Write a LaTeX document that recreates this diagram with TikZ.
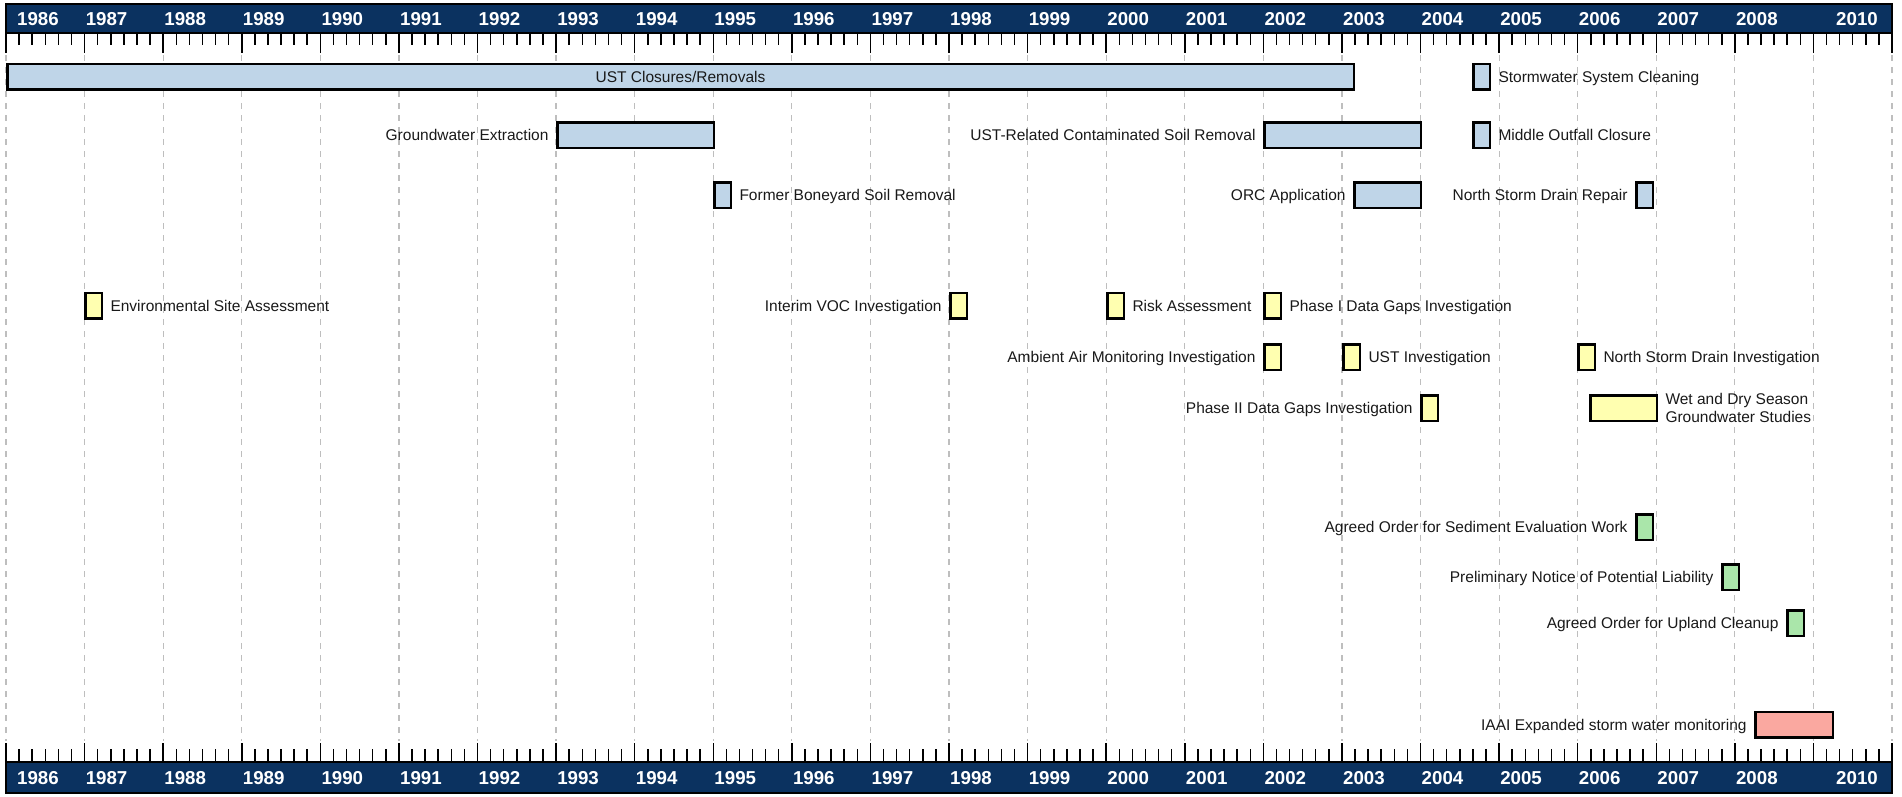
\documentclass[tikz,border=0pt]{standalone}
\usepackage{fontspec}
\setmainfont{Liberation Sans}
\usetikzlibrary{positioning}
\definecolor{navy}{RGB}{11,50,96}
\definecolor{barblue}{RGB}{191,213,232}
\definecolor{baryel}{RGB}{255,255,176}
\definecolor{bargreen}{RGB}{170,230,170}
\definecolor{barpink}{RGB}{250,168,160}
\definecolor{gridgray}{RGB}{190,190,190}
\definecolor{txt}{RGB}{25,25,25}
\tikzset{
  barbox/.style={draw=black, line width=2.5pt, inner sep=0pt, minimum height=25.5pt, anchor=west},
  bluebar/.style={barbox, fill=barblue},
  yelbar/.style={barbox, fill=baryel},
  greenbar/.style={barbox, fill=bargreen},
  pinkbar/.style={barbox, fill=barpink},
  lbl/.style={font=\fontsize{15.5}{18.5}\selectfont, text=txt, inner sep=0pt, text height=11.1pt, text depth=0pt},
  rl/.style={lbl, right=7.3pt of #1},
  ll/.style={lbl, left=7.3pt of #1},
  yr/.style={font=\fontsize{18.7}{20}\selectfont\bfseries, text=white, inner sep=0pt, text height=13.4pt, text depth=0pt, anchor=west},
  hdr/.style={draw=black, line width=1.5pt, fill=navy},
  tickmark/.style={line width=1.5pt, black},
  gridline/.style={gridgray, line width=1.2pt, dash pattern=on 5.5pt off 6.5pt},
}
\begin{document}
\begin{tikzpicture}[x=1pt,y=-1pt]
\useasboundingbox (0,0) rectangle (1902,796);
% grid
\foreach \n in {0,...,24}{
  \pgfmathsetmacro\xx{6+\n*78.5833}
  \draw[gridline] (\xx,55) -- (\xx,741);
}
% headers
\draw[hdr] (6,4) rectangle (1892,33);
\draw[hdr] (6,762) rectangle (1892,793);
% ticks
\foreach \i in {0,...,144}{
  \pgfmathsetmacro\xx{6+\i*78.5833/6}
  \pgfmathtruncatemacro\mm{mod(\i,6)}
  \ifnum\mm=0
    \draw[tickmark] (\xx,33) -- (\xx,53);
    \draw[tickmark] (\xx,743) -- (\xx,762);
  \else
    \draw[tickmark] (\xx,33) -- (\xx,45);
    \draw[tickmark] (\xx,749) -- (\xx,762);
  \fi
}
% year labels
\node[yr] (yt0) at (17,19) {1986};
\node[yr] (yb0) at (17,777.5) {1986};
\foreach \n in {1,...,22}{
  \pgfmathtruncatemacro\yy{1986+\n}
  \pgfmathsetmacro\xx{6+\n*78.5833+1}
  \node[yr] (yt\n) at (\xx,19) {\yy};
  \node[yr] (yb\n) at (\xx,777.5) {\yy};
}
\node[yr] (yt23) at (1836,19) {2010};
\node[yr] (yb23) at (1836,777.5) {2010};

% row 1
\node[bluebar, minimum width=1346.5pt] (ustclose) at (6,76.5) {};
\node[lbl] (ustclose-l) at (ustclose.center) {UST Closures/Removals};
\node[bluebar, minimum width=16.5pt] (storm) at (1472,76.5) {};
\node[rl=storm] (storm-l) {Stormwater System Cleaning};
% row 2
\node[bluebar, minimum width=156.5pt] (gwx) at (556,135) {};
\node[ll=gwx] (gwx-l) {Groundwater Extraction};
\node[bluebar, minimum width=156.5pt] (ustsoil) at (1263,135) {};
\node[ll=ustsoil] (ustsoil-l) {UST-Related Contaminated Soil Removal};
\node[bluebar, minimum width=16.5pt] (outfall) at (1472,135) {};
\node[rl=outfall] (outfall-l) {Middle Outfall Closure};
% row 3
\node[bluebar, minimum width=16.5pt] (boneyard) at (713,195) {};
\node[rl=boneyard] (boneyard-l) {Former Boneyard Soil Removal};
\node[bluebar, minimum width=66.5pt] (orc) at (1353,195) {};
\node[ll=orc] (orc-l) {ORC Application};
\node[bluebar, minimum width=16.5pt] (nsdrepair) at (1635,195) {};
\node[ll=nsdrepair] (nsdrepair-l) {North Storm Drain Repair};
% row 4
\node[yelbar, minimum width=16.5pt] (esa) at (84,305.5) {};
\node[rl=esa] (esa-l) {Environmental Site Assessment};
\node[yelbar, minimum width=16.5pt] (voc) at (949,305.5) {};
\node[ll=voc] (voc-l) {Interim VOC Investigation};
\node[yelbar, minimum width=16.5pt] (risk) at (1106,305.5) {};
\node[rl=risk] (risk-l) {Risk Assessment};
\node[yelbar, minimum width=16.5pt] (phase1) at (1263,305.5) {};
\node[rl=phase1] (phase1-l) {Phase I Data Gaps Investigation};
% row 5
\node[yelbar, minimum width=16.5pt] (air) at (1263,357) {};
\node[ll=air] (air-l) {Ambient Air Monitoring Investigation};
\node[yelbar, minimum width=16.5pt] (ustinv) at (1342,357) {};
\node[rl=ustinv] (ustinv-l) {UST Investigation};
\node[yelbar, minimum width=16.5pt] (nsdinv) at (1577,357) {};
\node[rl=nsdinv] (nsdinv-l) {North Storm Drain Investigation};
% row 6
\node[yelbar, minimum width=16.5pt] (phase2) at (1420,408) {};
\node[ll=phase2] (phase2-l) {Phase II Data Gaps Investigation};
\node[yelbar, minimum width=66.5pt] (wetdry) at (1589,408) {};
\node[lbl, align=left, text height=29.6pt, text depth=0pt, anchor=west] (wetdry-l) at ([xshift=7.3pt]wetdry.east) {Wet and Dry Season\\Groundwater Studies};
% rows 7-9
\node[greenbar, minimum width=16.5pt] (sediment) at (1635,527) {};
\node[ll=sediment] (sediment-l) {Agreed Order for Sediment Evaluation Work};
\node[greenbar, minimum width=16.5pt] (pnotice) at (1721,577) {};
\node[ll=pnotice] (pnotice-l) {Preliminary Notice of Potential Liability};
\node[greenbar, minimum width=16.5pt] (upland) at (1786,623) {};
\node[ll=upland] (upland-l) {Agreed Order for Upland Cleanup};
% row 10
\node[pinkbar, minimum width=77.5pt] (iaai) at (1754,724.5) {};
\node[ll=iaai] (iaai-l) {IAAI Expanded storm water monitoring};
\end{tikzpicture}
\end{document}
